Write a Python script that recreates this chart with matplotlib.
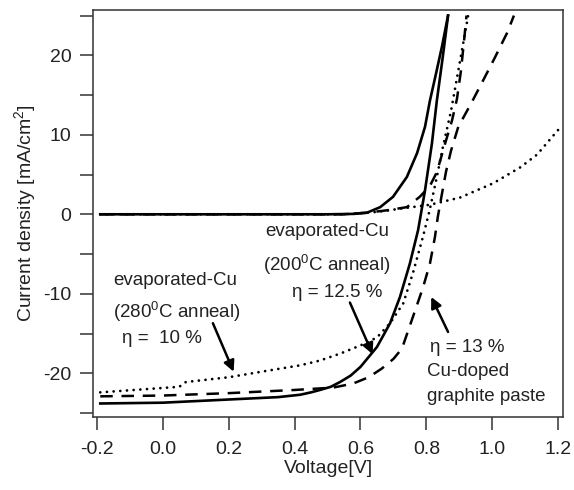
import matplotlib
matplotlib.use("Agg")
import matplotlib.pyplot as plt

plt.rcParams["font.family"] = ["Liberation Sans", "DejaVu Sans"]
plt.rcParams["mathtext.default"] = "regular"
plt.rcParams["axes.unicode_minus"] = False

# J-V curves (voltage in V, current density in mA/cm^2)
solid_light_v = [-0.19, 0.0, 0.2, 0.3, 0.35, 0.417, 0.45, 0.477, 0.51, 0.538, 0.57, 0.6,
                 0.65, 0.69, 0.72, 0.75, 0.775, 0.796, 0.817, 0.832, 0.85, 0.866]
solid_light_j = [-23.8, -23.7, -23.3, -23.1, -23.0, -22.7, -22.4, -22.1, -21.7, -21.1,
                 -20.3, -19.2, -16.7, -13.7, -10.4, -6.2, -2.0, 3.0, 8.9, 14.3, 19.8, 25.0]
solid_dark_v = [-0.19, 0.5, 0.58, 0.62, 0.66, 0.699, 0.741, 0.772, 0.796, 0.811, 0.83,
                0.848, 0.866]
solid_dark_j = [0.0, 0.0, 0.05, 0.2, 0.9, 2.2, 4.7, 7.7, 11.0, 14.3, 17.8, 21.2, 25.0]

dash_light_v = [-0.19, 0.0, 0.2, 0.4, 0.517, 0.577, 0.625, 0.665, 0.70, 0.726, 0.766,
                0.79, 0.811, 0.826, 0.835, 0.848, 0.86, 0.875, 0.897, 0.938, 0.972,
                1.008, 1.045, 1.066]
dash_light_j = [-22.9, -22.8, -22.5, -22.1, -21.8, -21.3, -20.5, -19.4, -18.2, -16.9,
                -12.1, -9.2, -6.2, -2.9, -0.3, 2.7, 5.4, 8.0, 11.0, 14.1, 16.8, 19.7,
                22.8, 25.0]
dash_dark_v = [-0.19, 0.55, 0.62, 0.68, 0.741, 0.78, 0.81, 0.832, 0.857, 0.878, 0.893,
               0.905, 0.915, 0.922]
dash_dark_j = [0.0, 0.0, 0.2, 0.5, 0.9, 2.2, 3.5, 5.3, 8.9, 11.8, 14.5, 18.0, 22.0, 25.0]

dot_light_v = [-0.19, 0.05, 0.07, 0.2, 0.3, 0.417, 0.477, 0.54, 0.6, 0.65, 0.69, 0.73,
               0.76, 0.79, 0.81, 0.832, 0.85, 0.875, 0.902, 0.927]
dot_light_j = [-22.4, -21.7, -21.1, -20.5, -19.8, -19.0, -18.4, -17.5, -16.5, -15.5,
               -13.7, -11.2, -7.3, -2.8, 0.5, 4.7, 8.4, 13.0, 19.2, 25.0]
dot_dark_v = [-0.19, 0.55, 0.65, 0.72, 0.811, 0.902, 1.003, 1.085, 1.136, 1.2]
dot_dark_j = [0.0, 0.0, 0.3, 0.7, 1.2, 2.1, 3.9, 5.9, 7.5, 10.6]

x_ticks = [-0.2, 0.0, 0.2, 0.4, 0.6, 0.8, 1.0, 1.2]
y_ticks = [-20, -10, 0, 10, 20]
y_minor = [-25, -15, -5, 5, 15, 25]

# annotation labels and arrows (tail -> tip, data coords)
labels = [
    ("evaporated-Cu", 0.037, -8.3, "center"),
    ("(280$^0$C anneal)", 0.043, -12.3, "center"),
    ("η =  10 %", -0.002, -15.6, "center"),
    ("evaporated-Cu", 0.498, -2.2, "center"),
    ("(200$^0$C anneal)", 0.498, -6.4, "center"),
    ("η = 12.5 %", 0.529, -9.8, "center"),
    ("η = 13 %", 0.811, -16.7, "left"),
    ("Cu-doped", 0.802, -19.8, "left"),
    ("graphite paste", 0.802, -22.9, "left"),
]
arrows = [
    ((0.152, -13.7), (0.215, -19.8)),
    ((0.568, -11.1), (0.637, -17.6)),
    ((0.866, -14.8), (0.815, -10.4)),
]

fig = plt.figure(figsize=(5.74, 4.90), dpi=100)
ax = fig.add_axes([93 / 574, 73 / 490, 470 / 574, 407 / 490])

dot = (0, (0.01, 2.4))
dash = (0, (5.0, 3.5))
ax.plot(dot_dark_v, dot_dark_j, color="black", lw=2.0, linestyle=dot, dash_capstyle="round")
ax.plot(dot_light_v, dot_light_j, color="black", lw=2.0, linestyle=dot, dash_capstyle="round")
ax.plot(dash_dark_v, dash_dark_j, color="black", lw=1.8, linestyle=dash)
ax.plot(dash_light_v, dash_light_j, color="black", lw=1.8, linestyle=dash)
ax.plot(solid_dark_v, solid_dark_j, color="black", lw=1.9)
ax.plot(solid_light_v, solid_light_j, color="black", lw=1.9)

for text, x, y, ha in labels:
    ax.text(x, y, text, ha=ha, va="center", fontsize=13.5, color="#222222")

for tail, tip in arrows:
    ax.annotate("", xy=tip, xytext=tail,
                arrowprops=dict(arrowstyle="-|>", lw=1.8, color="black",
                                mutation_scale=16, shrinkA=0, shrinkB=0))

ax.set_xlim(-0.212, 1.215)
ax.set_ylim(-25.5, 25.7)
ax.set_xticks(x_ticks)
ax.set_xticklabels([f"{t:.1f}" for t in x_ticks])
ax.set_yticks(y_ticks)
ax.set_yticks(y_minor, minor=True)
ax.tick_params(which="both", direction="out", length=9.5, width=1.1, color="#333333",
               labelsize=14, labelcolor="#222222")
ax.tick_params(axis="x", pad=8)
ax.tick_params(axis="y", pad=6)
for sp in ax.spines.values():
    sp.set_linewidth(1.1)
    sp.set_color("#333333")

ax.set_xlabel("Voltage[V]", fontsize=14, color="#222222", labelpad=1)
ax.set_ylabel("Current density [mA/cm$^2$]", fontsize=14, color="#222222", labelpad=4)

fig.savefig("out.png", dpi=100)
